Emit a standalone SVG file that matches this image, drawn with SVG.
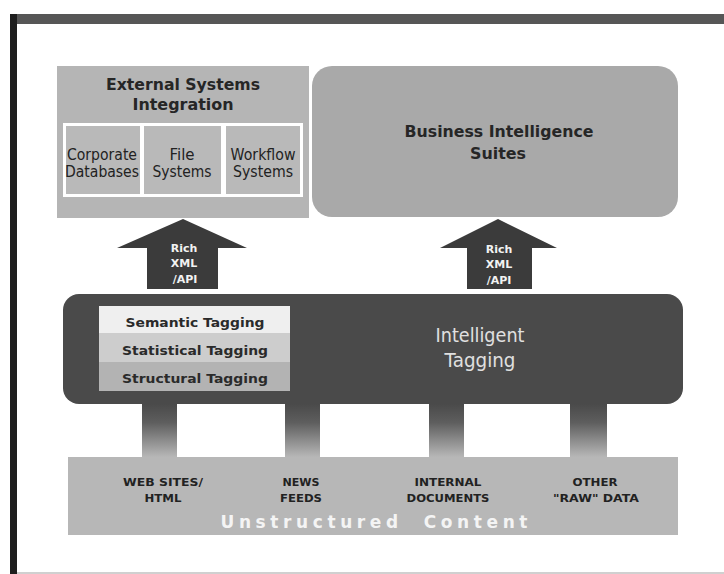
<svg xmlns="http://www.w3.org/2000/svg" width="724" height="574" viewBox="0 0 724 574">
  <defs>
    <linearGradient id="feed" x1="0" y1="0" x2="0" y2="1">
      <stop offset="0" stop-color="#4a4a4a"/>
      <stop offset="0.35" stop-color="#5e5e5e"/>
      <stop offset="1" stop-color="#b7b7b7"/>
    </linearGradient>
    <style>
      text { font-family: "DejaVu Sans", Verdana, sans-serif; text-anchor: middle; }
      .title { font-size: 16px; font-weight: bold; fill: #262626; }
      .cell { font-size: 15px; fill: #222222; }
      .api { font-size: 11px; font-weight: bold; fill: #f2f2f2; }
      .tag { font-size: 13px; font-weight: bold; fill: #2a2a2a; }
      .big { font-size: 20px; fill: #e0e0e0; }
      .src { font-size: 11px; font-weight: bold; fill: #222222; }
      .band { font-size: 17px; font-weight: bold; fill: #f4f4f4; }
      .arrow { fill: #3b3b3b; }
      .feed { fill: url(#feed); }
    </style>
  </defs>

  <rect width="724" height="574" fill="#ffffff"/>

  <!-- page frame -->
  <rect x="10" y="14" width="714" height="10" fill="#565656"/>
  <rect x="10" y="14" width="7" height="560" fill="#1e1e1e"/>
  <rect x="17" y="572" width="707" height="2" fill="#d0d0d0"/>

  <!-- external systems -->
  <g id="external-systems">
    <rect x="57" y="66" width="252" height="152" fill="#b5b5b5"/>
    <text class="title" x="183" y="90" textLength="154" lengthAdjust="spacingAndGlyphs">External Systems</text>
    <text class="title" x="183" y="110" textLength="101" lengthAdjust="spacingAndGlyphs">Integration</text>
    <rect x="63" y="123" width="240" height="74" fill="#ffffff"/>
    <g id="corporate-databases">
      <rect x="66" y="126" width="74" height="68" fill="#b9b9b9"/>
      <text class="cell" x="102" y="160" textLength="70" lengthAdjust="spacingAndGlyphs">Corporate</text>
      <text class="cell" x="102" y="177" textLength="74" lengthAdjust="spacingAndGlyphs">Databases</text>
    </g>
    <g id="file-systems">
      <rect x="144" y="126" width="77" height="68" fill="#b9b9b9"/>
      <text class="cell" x="182" y="160">File</text>
      <text class="cell" x="182" y="177" textLength="59" lengthAdjust="spacingAndGlyphs">Systems</text>
    </g>
    <g id="workflow-systems">
      <rect x="226" y="126" width="74" height="68" fill="#b9b9b9"/>
      <text class="cell" x="263" y="160" textLength="65" lengthAdjust="spacingAndGlyphs">Workflow</text>
      <text class="cell" x="263" y="177" textLength="60" lengthAdjust="spacingAndGlyphs">Systems</text>
    </g>
  </g>

  <!-- business intelligence -->
  <g id="business-intelligence">
    <rect x="312" y="66" width="366" height="151" rx="20" fill="#a9a9a9"/>
    <text class="title" x="499" y="137" textLength="189" lengthAdjust="spacingAndGlyphs">Business Intelligence</text>
    <text class="title" x="498" y="159" textLength="56" lengthAdjust="spacingAndGlyphs">Suites</text>
  </g>

  <!-- intelligent tagging -->
  <g id="intelligent-tagging">
    <rect x="63" y="294" width="620" height="110" rx="16" fill="#4a4a4a"/>
    <rect x="99" y="306" width="191" height="27" fill="#efefef"/>
    <rect x="99" y="333" width="191" height="29" fill="#cdcdcd"/>
    <rect x="99" y="362" width="191" height="29" fill="#b3b3b3"/>
    <text class="tag" x="195" y="327" textLength="139" lengthAdjust="spacingAndGlyphs">Semantic Tagging</text>
    <text class="tag" x="195" y="355" textLength="146" lengthAdjust="spacingAndGlyphs">Statistical Tagging</text>
    <text class="tag" x="195" y="383" textLength="146" lengthAdjust="spacingAndGlyphs">Structural Tagging</text>
    <text class="big" x="480" y="342" textLength="89" lengthAdjust="spacingAndGlyphs">Intelligent</text>
    <text class="big" x="480" y="367" textLength="71" lengthAdjust="spacingAndGlyphs">Tagging</text>
  </g>

  <!-- unstructured content -->
  <g id="unstructured-content">
    <rect x="68" y="457" width="610" height="78" fill="#b7b7b7"/>
    <text class="src" x="163" y="486" textLength="80" lengthAdjust="spacingAndGlyphs">WEB SITES/</text>
    <text class="src" x="163" y="502" textLength="37" lengthAdjust="spacingAndGlyphs">HTML</text>
    <text class="src" x="301" y="486" textLength="37" lengthAdjust="spacingAndGlyphs">NEWS</text>
    <text class="src" x="301" y="502" textLength="42" lengthAdjust="spacingAndGlyphs">FEEDS</text>
    <text class="src" x="448" y="486" textLength="67" lengthAdjust="spacingAndGlyphs">INTERNAL</text>
    <text class="src" x="448" y="502" textLength="83" lengthAdjust="spacingAndGlyphs">DOCUMENTS</text>
    <text class="src" x="595" y="486" textLength="45" lengthAdjust="spacingAndGlyphs">OTHER</text>
    <text class="src" x="596" y="502" textLength="86" lengthAdjust="spacingAndGlyphs">"RAW" DATA</text>
    <text class="band" x="374" y="528" textLength="307" lengthAdjust="spacing" xml:space="preserve">Unstructured  Content</text>
  </g>

  <!-- connectors -->
  <g id="connectors">
    <polygon class="arrow" points="183,219 247,248 218,248 218,289 147,289 147,248 117,248"/>
    <text class="api" x="184" y="252">Rich</text>
    <text class="api" x="184" y="267">XML</text>
    <text class="api" x="185" y="283">/API</text>
    <polygon class="arrow" points="498,219 557,248 532,248 532,289 467,289 467,248 440,248"/>
    <text class="api" x="499" y="253">Rich</text>
    <text class="api" x="499" y="268">XML</text>
    <text class="api" x="499" y="284">/API</text>
    <rect class="feed" x="142" y="404" width="35" height="53"/>
    <rect class="feed" x="285" y="404" width="35" height="53"/>
    <rect class="feed" x="429" y="404" width="35" height="53"/>
    <rect class="feed" x="570" y="404" width="37" height="53"/>
  </g>
</svg>
